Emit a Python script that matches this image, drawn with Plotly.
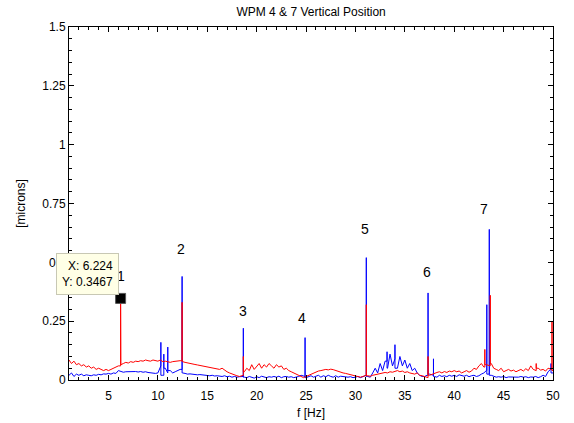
import numpy as np
import plotly.graph_objects as go

# frequency grid (Hz), 0.25 Hz spacing from 1 to 50
freq = [1 + 0.25 * i for i in range(197)]

red_base = [
    0.085, 0.07, 0.08, 0.065,  0.07, 0.06, 0.065, 0.055,  0.06, 0.05, 0.055, 0.045,
    0.05, 0.045, 0.04, 0.045,  0.04, 0.045, 0.05, 0.055,  0.06, 0.065, 0.07, 0.075,
    0.072, 0.078, 0.075, 0.08,  0.078, 0.082, 0.08, 0.085,  0.082, 0.08, 0.085, 0.082,
    0.08, 0.085, 0.078, 0.08,  0.076, 0.075, 0.078, 0.08,  0.08, 0.082, 0.078, 0.075,
    0.072, 0.07, 0.068, 0.066,  0.064, 0.062, 0.06, 0.058,  0.056, 0.055, 0.053, 0.05,
    0.048, 0.045, 0.05, 0.042,  0.035, 0.03, 0.025, 0.02,  0.018, 0.015, 0.02, 0.035,
    0.05, 0.04, 0.065, 0.045,  0.06, 0.07, 0.05, 0.065,  0.055, 0.07, 0.06, 0.05,
    0.065, 0.055, 0.06, 0.045,  0.05, 0.04, 0.035, 0.03,  0.025, 0.02, 0.015, 0.01,
    0.015, 0.02, 0.025, 0.03,  0.035, 0.038, 0.04, 0.042,  0.045, 0.043, 0.046, 0.044,
    0.04, 0.038, 0.035, 0.03,  0.028, 0.025, 0.022, 0.02,  0.018, 0.015, 0.012, 0.015,
    0.02, 0.018, 0.016, 0.02,  0.022, 0.025, 0.028, 0.03,  0.032, 0.03, 0.035, 0.033,
    0.036, 0.04, 0.035, 0.038,  0.032, 0.035, 0.03, 0.028,  0.025, 0.03, 0.02, 0.018,
    0.015, 0.01, 0.02, 0.025,  0.03, 0.032, 0.035, 0.03,  0.036, 0.032, 0.038, 0.035,
    0.04, 0.035, 0.038, 0.03,  0.035, 0.04, 0.033, 0.038,  0.05, 0.045, 0.06, 0.07,
    0.055, 0.065, 0.06, 0.07,  0.05, 0.045, 0.04, 0.05,  0.035, 0.04, 0.045, 0.038,
    0.042, 0.035, 0.04, 0.045,  0.038, 0.048, 0.04, 0.06,  0.045, 0.04, 0.05, 0.042,
    0.045, 0.038, 0.05, 0.045,  0.04,
]

blue_base = [
    0.02, 0.03, 0.015, 0.025,  0.02, 0.025, 0.018, 0.022,  0.02, 0.018, 0.022, 0.02,
    0.024, 0.022, 0.026, 0.025,  0.028, 0.025, 0.03, 0.028,  0.04, 0.035, 0.033, 0.035,
    0.035, 0.038, 0.035, 0.036,  0.034, 0.036, 0.033, 0.035,  0.032, 0.03, 0.03, 0.028,
    0.03, 0.06, 0.02, 0.05,  0.03, 0.04, 0.03, 0.035,  0.04, 0.045, 0.03, 0.028,
    0.025, 0.026, 0.024, 0.023,  0.022, 0.023, 0.021, 0.02,  0.02, 0.018, 0.02, 0.017,
    0.018, 0.016, 0.015, 0.018,  0.014, 0.016, 0.012, 0.015,  0.012, 0.014, 0.015, 0.012,
    0.01, 0.015, 0.012, 0.008,  0.014, 0.01, 0.016, 0.012,  0.01, 0.014, 0.012, 0.015,
    0.012, 0.016, 0.01, 0.014,  0.015, 0.012, 0.014, 0.01,  0.012, 0.015, 0.02, 0.015,
    0.01, 0.014, 0.018, 0.012,  0.015, 0.02, 0.012, 0.018,  0.014, 0.02, 0.015, 0.012,
    0.018, 0.012, 0.016, 0.014,  0.015, 0.012, 0.014, 0.01,  0.012, 0.015, 0.01, 0.014,
    0.02, 0.015, 0.012, 0.03,  0.05, 0.03, 0.07, 0.04,  0.08, 0.05, 0.11, 0.06,
    0.09, 0.05, 0.1, 0.06,  0.085, 0.05, 0.07, 0.04,  0.05, 0.03, 0.02, 0.015,
    0.015, 0.02, 0.025, 0.02,  0.015, 0.012, 0.02, 0.015,  0.018, 0.014, 0.02, 0.016,
    0.02, 0.015, 0.022, 0.018,  0.016, 0.02, 0.014, 0.018,  0.02, 0.015, 0.018, 0.025,
    0.03, 0.04, 0.025, 0.02,  0.015, 0.012, 0.014, 0.012,  0.015, 0.01, 0.013, 0.012,
    0.014, 0.01, 0.012, 0.015,  0.012, 0.014, 0.01, 0.013,  0.012, 0.015, 0.01, 0.014,
    0.02, 0.015, 0.035, 0.045,  0.03,
]

# narrow spectral lines
blue_peak_f = [10.3, 10.6, 11.0, 12.45, 18.65, 24.9, 31.1, 33.2, 34.0, 37.35, 37.9, 43.3, 43.55, 49.8]
blue_peak_v = [0.16, 0.11, 0.14, 0.44, 0.22, 0.18, 0.52, 0.12, 0.15, 0.37, 0.09, 0.32, 0.64, 0.07]
red_peak_f = [6.224, 12.45, 18.65, 31.1, 37.35, 43.1, 43.65, 48.3, 49.9]
red_peak_v = [0.3467, 0.33, 0.10, 0.32, 0.10, 0.13, 0.36, 0.07, 0.25]

peak_labels = ["1", "2", "3", "4", "5", "6", "7"]
label_f = [6.28, 12.36, 18.64, 24.6, 31.0, 37.28, 43.06]
label_v = [0.444, 0.556, 0.295, 0.265, 0.641, 0.457, 0.726]

tip_x, tip_y = 6.224, 0.3467

x_ticks = [5, 10, 15, 20, 25, 30, 35, 40, 45, 50]
y_ticks = [0, 0.25, 0.5, 0.75, 1, 1.25, 1.5]
y_tick_text = ["0", "0.25", "0.5", "0.75", "1", "1.25", "1.5"]


def with_spikes(fx, base, pf, pv):
    xs, ys = list(fx), list(base)
    for f, v in sorted(zip(pf, pv)):
        i = next(k for k in range(len(xs)) if xs[k] > f)
        left, right = ys[i - 1], ys[i]
        xs[i:i] = [f, f, f]
        ys[i:i] = [left, v, right]
    return xs, ys


bx, by = with_spikes(freq, blue_base, blue_peak_f, blue_peak_v)
rx, ry = with_spikes(freq, red_base, red_peak_f, red_peak_v)

fig = go.Figure()
fig.add_trace(go.Scatter(x=bx, y=by, mode="lines", line=dict(color="#0000FF", width=1), showlegend=False))
fig.add_trace(go.Scatter(x=rx, y=ry, mode="lines", line=dict(color="#FF0000", width=1), showlegend=False))
fig.add_trace(go.Scatter(x=[tip_x], y=[tip_y], mode="markers",
                         marker=dict(symbol="square", size=10, color="black",
                                     line=dict(color="#555555", width=1)),
                         showlegend=False))

font = dict(family="Liberation Sans, Arial, sans-serif", size=12, color="black")

for t, fx_, fy_ in zip(peak_labels, label_f, label_v):
    fig.add_annotation(x=fx_, y=fy_, text=t, showarrow=False,
                       font=dict(family=font["family"], size=14, color="black"))

fig.add_annotation(x=tip_x, y=tip_y, xanchor="right", yanchor="bottom",
                   xshift=-2, yshift=3, showarrow=False, align="right",
                   text="X: 6.224<br>Y: 0.3467",
                   font=dict(family=font["family"], size=12, color="black"),
                   bgcolor="#FFFFE6", bordercolor="#C8C8B4", borderwidth=1, borderpad=5)

axis_common = dict(showline=True, linecolor="black", linewidth=1, mirror="ticks",
                   ticks="inside", ticklen=5, tickcolor="black", showgrid=False,
                   zeroline=False, tickfont=font, automargin=False)

fig.update_xaxes(range=[1, 50], tickvals=x_ticks, ticklabelstandoff=5,
                 title=dict(text="f [Hz]", font=font, standoff=6),
                 minor=dict(dtick=1, ticks="inside", ticklen=3, tickcolor="black"),
                 **axis_common)
fig.update_yaxes(range=[0, 1.5], tickvals=y_ticks, ticktext=y_tick_text,
                 title=dict(text="[microns]", font=font, standoff=14),
                 minor=dict(dtick=0.05, ticks="inside", ticklen=3, tickcolor="black"),
                 **axis_common)

fig.update_layout(
    width=574, height=423,
    margin=dict(l=69, r=21, t=27, b=43),
    paper_bgcolor="white", plot_bgcolor="white",
    title=dict(text="WPM 4 &amp; 7 Vertical Position", x=0.542, xanchor="center",
               y=0.972, yanchor="middle", font=font),
    font=font,
)

fig.write_html("out.html")
